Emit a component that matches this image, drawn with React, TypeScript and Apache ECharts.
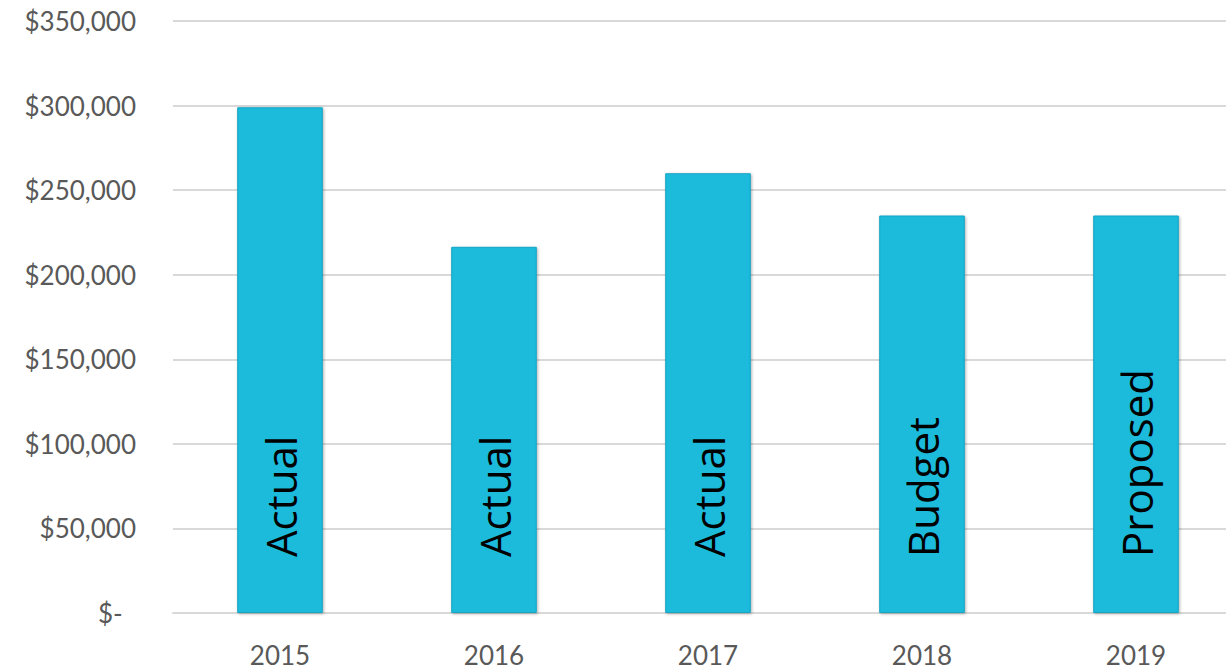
import React, { useEffect, useRef } from "react";
import * as echarts from "echarts";

const years = ["2015", "2016", "2017", "2018", "2019"];
const amounts = [299000, 216500, 260000, 235000, 235000];
const statusLabels = ["Actual", "Actual", "Actual", "Budget", "Proposed"];
const yTicks = [0, 50000, 100000, 150000, 200000, 250000, 300000, 350000];

export default function App() {
  const ref = useRef<HTMLDivElement>(null);
  useEffect(() => {
    if (!ref.current) return;
    const chart = echarts.init(ref.current, undefined, { renderer: "svg" });
    chart.setOption({
      animation: false,
      grid: { left: 173, right: 0, top: 21, bottom: 59, containLabel: false },
      xAxis: {
        type: "category",
        data: years,
        axisTick: { show: false },
        axisLine: { lineStyle: { color: "#d9d9d9", width: 2 } },
        axisLabel: { color: "#595959", fontSize: 26, fontFamily: "Lato", margin: 29 },
      },
      yAxis: {
        type: "value",
        min: yTicks[0],
        max: yTicks[yTicks.length - 1],
        interval: 50000,
        axisLine: { show: false },
        axisTick: { show: false },
        splitLine: { lineStyle: { color: "#d9d9d9", width: 2 } },
        axisLabel: {
          color: "#595959",
          fontSize: 26,
          fontFamily: "Lato",
          margin: 37,
          formatter: (v: number) =>
            v === 0 ? "$-\u00a0\u00a0" : "$" + v.toLocaleString("en-US"),
        },
      },
      series: [
        {
          type: "bar",
          data: amounts.map((v, i) => ({
            value: v,
            label: { formatter: statusLabels[i] },
          })),
          barWidth: "40%",
          itemStyle: {
            color: "#1bbadb",
            borderColor: "#17a5c4",
            borderWidth: 1,
            shadowBlur: 3,
            shadowColor: "rgba(0,0,0,0.3)",
            shadowOffsetX: 1,
            shadowOffsetY: 1,
          },
          label: {
            show: true,
            position: "insideBottom",
            rotate: 90,
            align: "left",
            verticalAlign: "middle",
            distance: 56,
            color: "#000000",
            fontSize: 42,
            fontFamily: "Open Sans",
          },
        },
      ],
    });
    return () => chart.dispose();
  }, []);
  return (
    <div
      ref={ref}
      style={{ position: "fixed", left: 0, top: 0, width: 1243, height: 672, background: "#fff" }}
    />
  );
}
